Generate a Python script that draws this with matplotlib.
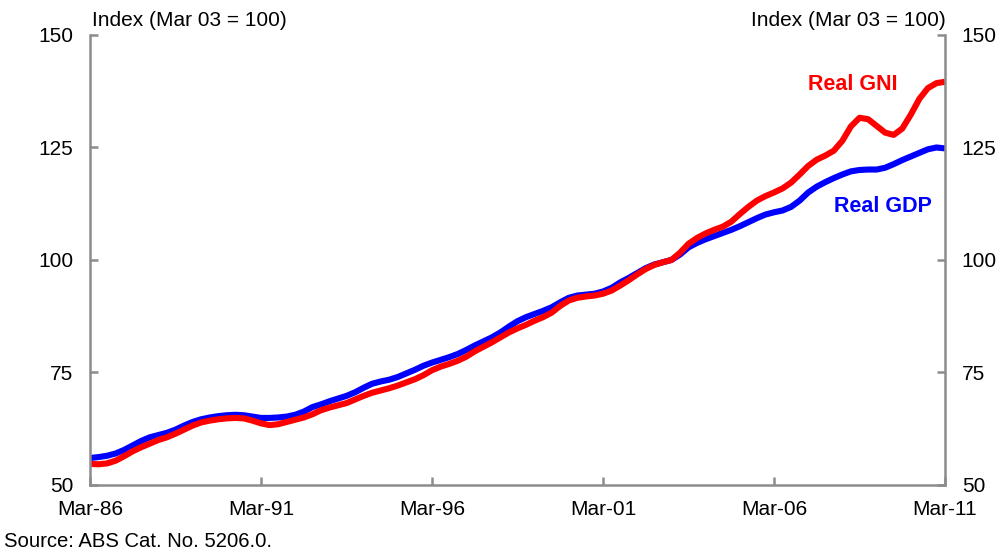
import matplotlib
matplotlib.use("Agg")
import matplotlib.pyplot as plt
import numpy as np

plt.rcParams['font.family'] = ['Liberation Sans', 'DejaVu Sans']

tick_labels = ["Mar-86", "Mar-91", "Mar-96", "Mar-01", "Mar-06", "Mar-11"]

real_gdp = [
    56.0, 56.2, 56.5, 57.0, 57.8, 58.8, 59.8, 60.6, 61.1, 61.6,
    62.3, 63.2, 64.0, 64.6, 65.0, 65.3, 65.5, 65.6, 65.5, 65.2,
    64.9, 64.9, 65.0, 65.2, 65.6, 66.3, 67.3, 67.9, 68.6, 69.2,
    69.8, 70.6, 71.6, 72.5, 73.0, 73.4, 74.0, 74.8, 75.6, 76.5,
    77.2, 77.8, 78.4, 79.1, 80.0, 81.0, 81.9, 82.8, 83.9, 85.2,
    86.4, 87.3, 88.0, 88.7, 89.5, 90.6, 91.6, 92.1, 92.3, 92.5,
    93.0, 93.8, 95.0, 96.0, 97.1, 98.2, 99.0, 99.5, 100.0, 101.2,
    102.8, 103.8, 104.6, 105.3, 106.0, 106.7, 107.5, 108.4, 109.3, 110.1,
    110.6, 111.0, 111.8, 113.2, 115.0, 116.3, 117.3, 118.2, 119.0, 119.7,
    120.0, 120.1, 120.1, 120.5, 121.3, 122.2, 123.0, 123.8, 124.6, 125.0,
    124.8,
]

real_gni = [
    54.7, 54.6, 54.8, 55.4, 56.4, 57.5, 58.4, 59.2, 60.0, 60.6,
    61.4, 62.3, 63.2, 63.9, 64.3, 64.6, 64.8, 64.9, 64.8, 64.3,
    63.7, 63.3, 63.5, 64.0, 64.5, 65.0, 65.7, 66.6, 67.2, 67.7,
    68.2, 69.0, 69.8, 70.5, 71.0, 71.5, 72.1, 72.8, 73.5, 74.4,
    75.5, 76.3, 76.9, 77.6, 78.5, 79.7, 80.7, 81.7, 82.8, 83.9,
    84.8, 85.6, 86.5, 87.3, 88.3, 89.8, 91.0, 91.6, 91.9, 92.1,
    92.5, 93.2, 94.3, 95.5, 96.8, 98.0, 98.9, 99.5, 100.0, 101.6,
    103.6, 104.9, 105.9, 106.7, 107.4, 108.5, 110.2, 111.8, 113.2, 114.2,
    115.0, 115.9, 117.2, 119.0, 120.9, 122.3, 123.2, 124.3, 126.5, 129.7,
    131.6, 131.3, 129.8, 128.3, 127.8, 129.2, 132.3, 135.8, 138.2, 139.3,
    139.6,
]

x = np.arange(len(real_gdp))

fig = plt.figure(figsize=(10, 5.51), dpi=100)
ax = fig.add_axes([0.09, 0.1198, 0.855, 0.8167])

ax.plot(x, real_gdp, color='#0000ff', lw=4.4, solid_capstyle='butt')
ax.plot(x, real_gni, color='#ff0000', lw=4.4, solid_capstyle='butt')

ax.set_xlim(0, 100)
ax.set_ylim(50, 150)
ax.set_xticks(np.arange(0, 101, 20))
ax.set_xticklabels(tick_labels)
ax.set_yticks([50, 75, 100, 125, 150])

spine_col = '#8c8c8c'
for s in ['left', 'right', 'bottom']:
    ax.spines[s].set_color(spine_col)
    ax.spines[s].set_linewidth(1.8)
ax.spines['top'].set_visible(False)

ax.tick_params(axis='both', direction='in', color=spine_col, width=1.8, length=6,
               labelsize=15, labelcolor='black')
ax.tick_params(axis='y', right=True, labelright=True, pad=12)
ax.tick_params(axis='x', pad=11)

fig.text(0.092, 0.963, "Index (Mar 03 = 100)", fontsize=15, ha='left', va='center')
fig.text(0.946, 0.963, "Index (Mar 03 = 100)", fontsize=15, ha='right', va='center')
fig.text(0.004, 0.018, "Source: ABS Cat. No. 5206.0.", fontsize=14.6, ha='left', va='center')

ax.text(89.2, 138.9, "Real GNI", color='#ff0000', fontsize=15.5, fontweight='bold',
        ha='center', va='center')
ax.text(92.7, 111.8, "Real GDP", color='#0000ff', fontsize=15.5, fontweight='bold',
        ha='center', va='center')

fig.savefig("out.png", dpi=100)
